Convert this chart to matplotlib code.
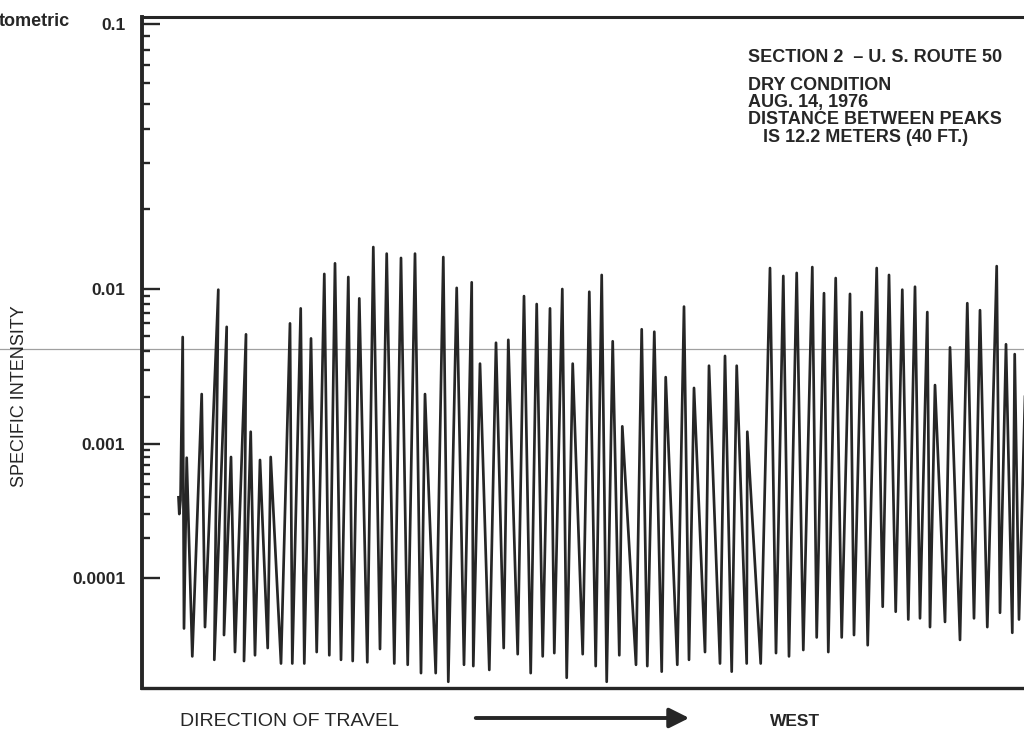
import numpy as np
import matplotlib
matplotlib.use("Agg")
import matplotlib.pyplot as plt
from matplotlib.patches import FancyArrowPatch
from matplotlib.ticker import FixedLocator, FixedFormatter

plt.rcParams['font.family'] = ['Liberation Sans', 'DejaVu Sans']

# distancia ao longo do trecho (unidades do grafico, ~1 por metro) e intensidade lida
distancia = [
    36.5, 37.3, 38.5, 40.7, 42.0, 44.7, 50.3, 59.7, 63.0, 76.3,
    72.3, 84.7, 82.0, 89.0, 93.0, 104.0, 102.0, 108.7, 113.0, 118.0,
    125.7, 128.7, 139.0, 148.0, 150.3, 158.7, 162.3, 169.0, 174.7, 182.3,
    187.3, 193.0, 199.0, 206.3, 210.7, 217.3, 225.3, 231.3, 238.0, 244.7,
    252.3, 259.0, 265.7, 273.0, 279.0, 283.0, 293.7, 301.3, 306.3, 314.7,
    322.0, 329.7, 331.3, 338.0, 347.3, 354.0, 361.7, 366.3, 375.7, 382.0,
    388.7, 394.7, 400.7, 408.0, 412.3, 420.3, 424.7, 430.7, 440.7, 447.3,
    453.7, 459.7, 464.7, 470.7, 477.3, 480.3, 494.0, 499.7, 505.3, 512.3,
    519.7, 523.7, 535.3, 542.0, 547.0, 552.0, 563.0, 567.0, 578.0, 583.0,
    589.7, 594.7, 604.7, 605.3, 618.7, 628.0, 634.0, 641.3, 647.0, 654.7,
    661.3, 670.3, 674.7, 682.0, 686.3, 693.7, 699.7, 708.0, 712.0, 719.7,
    725.7, 734.7, 740.7, 747.0, 753.7, 760.3, 766.3, 773.0, 778.0, 785.3,
    788.0, 793.0, 803.0, 808.0, 818.0, 825.3, 832.0, 838.0, 845.3, 854.7,
    858.0, 864.0, 870.3, 872.7, 877.0, 884.0,
]
intensidade = [
    4.0e-4, 3.0e-4, 3.8e-4, 4.9e-3, 4.2e-5, 7.9e-4, 2.6e-5, 2.1e-3, 4.3e-5, 9.9e-3,
    2.45e-5, 5.7e-3, 3.75e-5, 8.0e-4, 2.8e-5, 5.1e-3, 2.4e-5, 1.2e-3, 2.65e-5, 7.6e-4,
    3.0e-5, 8.0e-4, 2.3e-5, 6.0e-3, 2.3e-5, 7.5e-3, 2.3e-5, 4.8e-3, 2.8e-5, 1.14e-2,
    2.65e-5, 1.25e-2, 2.45e-5, 1.11e-2, 2.4e-5, 8.7e-3, 2.35e-5, 1.44e-2, 2.95e-5, 1.36e-2,
    2.3e-5, 1.31e-2, 2.25e-5, 1.36e-2, 1.95e-5, 2.1e-3, 1.95e-5, 1.32e-2, 1.68e-5, 1.01e-2,
    2.25e-5, 1.06e-2, 2.2e-5, 3.3e-3, 2.06e-5, 4.5e-3, 3.0e-5, 4.7e-3, 2.7e-5, 9.0e-3,
    1.95e-5, 8.0e-3, 2.6e-5, 7.5e-3, 2.75e-5, 1.0e-2, 1.8e-5, 3.3e-3, 2.7e-5, 9.6e-3,
    2.2e-5, 1.13e-2, 1.68e-5, 4.6e-3, 2.65e-5, 1.3e-3, 2.25e-5, 5.5e-3, 2.2e-5, 5.3e-3,
    2.0e-5, 2.7e-3, 2.25e-5, 7.7e-3, 2.45e-5, 2.3e-3, 2.8e-5, 3.2e-3, 2.3e-5, 3.7e-3,
    2.0e-5, 3.2e-3, 2.3e-5, 1.2e-3, 2.3e-5, 1.2e-2, 2.75e-5, 1.12e-2, 2.6e-5, 1.15e-2,
    2.9e-5, 1.21e-2, 3.6e-5, 9.4e-3, 2.8e-5, 1.1e-2, 3.6e-5, 9.3e-3, 3.75e-5, 7.1e-3,
    3.15e-5, 1.2e-2, 6.1e-5, 1.13e-2, 5.6e-5, 9.9e-3, 4.9e-5, 1.02e-2, 5.0e-5, 7.1e-3,
    4.3e-5, 2.4e-3, 4.7e-5, 4.2e-3, 3.45e-5, 8.1e-3, 5.0e-5, 7.3e-3, 4.3e-5, 1.22e-2,
    5.5e-5, 4.4e-3, 3.9e-5, 3.8e-3, 4.9e-5, 3.5e-3,
]

marcas_y = [1e-4, 1e-3, 1e-2, 1e-1]
rotulos_y = ['0.0001', '0.001', '0.01', '0.1']
marcas_menores = [k * 10.0 ** e for e in (-4, -3, -2) for k in range(2, 10)]

texto_secao = 'SECTION 2  \u2013 U. S. ROUTE 50'
texto_info = ['DRY CONDITION', 'AUG. 14, 1976', 'DISTANCE BETWEEN PEAKS',
              '   IS 12.2 METERS (40 FT.)']

# escala log "desenhada a mao": cada decada tem um comprimento diferente
dec_log = [-8, -4, -3, -2, -1, 3]
dec_pos = [-536, 0, 134, 289, 554, 1614]


def frente(v):
    v = np.clip(np.asarray(v, dtype=float), 1e-12, None)
    return np.interp(np.log10(v), dec_log, dec_pos)


def volta(p):
    return 10 ** np.interp(p, dec_pos, dec_log)


cor = '#262626'
fig = plt.figure(figsize=(10.24, 7.30), dpi=100)
ax = fig.add_axes([142 / 1024, 1 - 688 / 730, 898 / 1024, 671 / 730])

ax.plot(distancia, intensidade, color=cor, lw=1.95)

ax.set_yscale('function', functions=(frente, volta))
ax.set_ylim(1.51e-5, 0.1063)
ax.set_xlim(0, 898)

ax.yaxis.set_major_locator(FixedLocator(marcas_y))
ax.yaxis.set_major_formatter(FixedFormatter(rotulos_y))
ax.yaxis.set_minor_locator(FixedLocator(marcas_menores))
ax.tick_params(axis='y', which='major', direction='in', length=13, width=1.7,
               pad=12, labelsize=12.5, colors=cor)
ax.tick_params(axis='y', which='minor', direction='in', length=6, width=1.7, colors=cor)
for lbl in ax.get_yticklabels():
    lbl.set_fontweight('bold')
ax.set_xticks([])

ax.spines['right'].set_visible(False)
ax.spines['left'].set_linewidth(2.8)
ax.spines['bottom'].set_linewidth(2.4)
ax.spines['top'].set_linewidth(2.2)
for s in ('left', 'bottom', 'top'):
    ax.spines[s].set_color(cor)

# risco cinza do scanner que atravessa a folha
ax.axhline(0.0041, xmin=-0.16, xmax=1.0, color='#a0a0a0', lw=0.9,
           clip_on=False, zorder=0)

# so o fim da palavra aparece na folha recortada
fig.text(70 / 1024, 1 - 22 / 730, 'tometric', ha='right', va='center',
         fontsize=13, fontweight='bold', color=cor)
fig.text(20 / 1024, 1 - 396 / 730, 'SPECIFIC INTENSITY', rotation=90,
         ha='center', va='center', fontsize=13, color=cor)

fig.text(748 / 1024, 1 - 57 / 730, texto_secao, ha='left', va='center',
         fontsize=13, fontweight='bold', color=cor)
for i, linha in enumerate(texto_info):
    fig.text(748 / 1024, 1 - (85 + 17.5 * i) / 730, linha, ha='left',
             va='center', fontsize=13, fontweight='bold', color=cor)

fig.text(180 / 1024, 1 - 721 / 730, 'DIRECTION OF TRAVEL', ha='left',
         va='center', fontsize=14, color=cor)
fig.text(770 / 1024, 1 - 721 / 730, 'WEST', ha='left', va='center',
         fontsize=12.5, fontweight='bold', color=cor)
seta = FancyArrowPatch((473 / 1024, 1 - 718 / 730), (692 / 1024, 1 - 718 / 730),
                       transform=fig.transFigure, arrowstyle='-|>',
                       mutation_scale=30, lw=2.8, color=cor)
fig.add_artist(seta)

fig.savefig('out.png', dpi=100)
